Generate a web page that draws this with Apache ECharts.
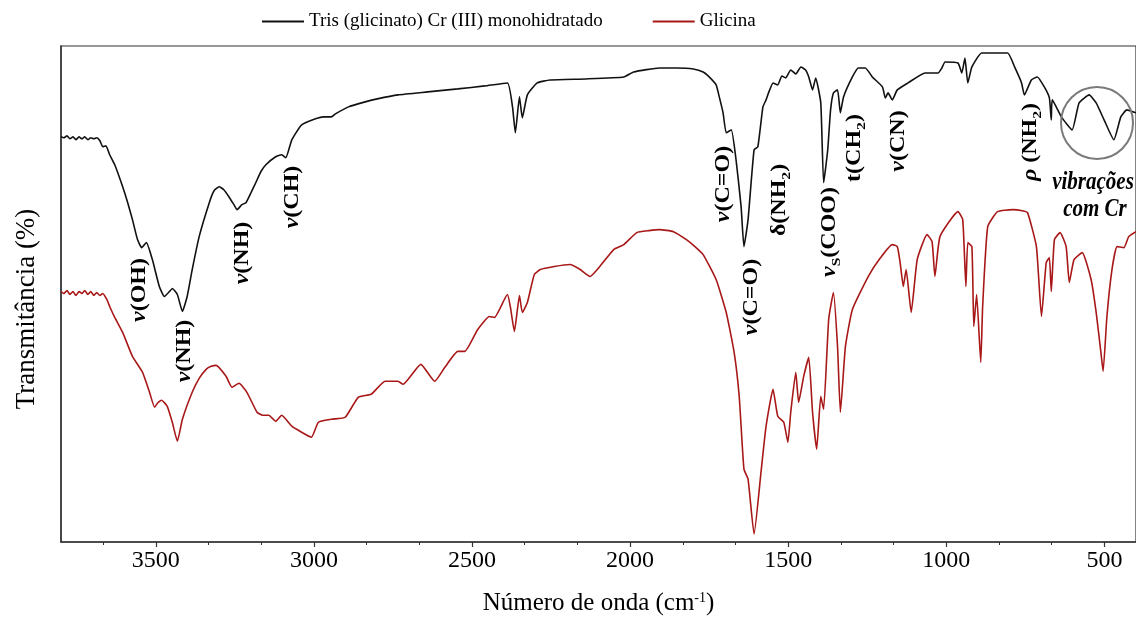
<!DOCTYPE html>
<html>
<head>
<meta charset="utf-8">
<script src="https://cdn.jsdelivr.net/npm/echarts@6/dist/echarts.min.js"></script>
<style>html,body{margin:0;padding:0;background:#fff}#c{width:1136px;height:621px}</style>
</head>
<body>
<div id="c"></div>
<script>
// ---- data ----
const seriesNames = ['Tris (glicinato) Cr (III) monohidratado', 'Glicina'];
const tickValues = [3500, 3000, 2500, 2000, 1500, 1000, 500];

const triWave = [3800,3791,3781,3772,3762,3753,3743,3734,3725,3715,3706,3696,3687,3677,3668,3658,3646,3630,3605,3589,3574,3558,3545,3530,3511,3489,3473,3457,3448,3432,3416,3401,3385,3363,3331,3316,3300,3285,3269,3253,3243,3228,3215,3199,3184,3168,3152,3121,3102,3089,3070,3039,2995,2970,2945,2932,2891,2838,2800,2734,2640,2545,2460,2388,2372,2363,2350,2341,2325,2294,2253,2140,2020,1989,1907,1853,1800,1769,1750,1728,1718,1706,1696,1680,1665,1649,1640,1627,1608,1596,1580,1570,1561,1548,1533,1520,1508,1492,1476,1460,1445,1435,1423,1413,1397,1388,1375,1366,1357,1344,1335,1325,1297,1278,1256,1234,1202,1193,1184,1171,1155,1121,1067,1026,1014,1004,963,951,941,932,919,888,806,784,762,753,731,712,690,674,668,665,636,602,580,548,526,501,470,448,429,400];
const triTrans = [101.5,101.25,101.75,101,101.5,100.75,101.5,101,101.5,100.75,101.25,101,101.25,100.5,99,99.25,97,94.5,89,85,80.75,75.75,73.75,75,70.75,64,61.5,62.75,63.5,62,57.75,61.5,68.25,76.5,85,88,89,88.25,86.5,84.5,83.25,84.5,85,87.5,90,92.75,94.5,96.5,97,96.25,100.75,104.5,106,106.5,106.5,107.25,109,110.25,111,112,112.75,113.5,114.25,115,109,102.5,111.5,106.25,112,115,115.75,116,116.5,117.75,118.75,118.75,118.5,117.75,116.5,114.5,111.5,107.5,102.5,103.25,95.75,84,74,80.75,98.25,99,109,110.75,112.75,115,114.5,116.75,116.25,118.25,117.25,119,118.25,116.5,113.25,116.25,110,90,98.25,108.25,112.5,113.25,107.5,111.5,116.5,118.75,118.75,116.5,114,111.25,112.5,110.75,113.25,115,117.5,117.5,118.75,120.25,120,117.5,121.25,115,119,122.5,122.5,119,115,112,115.75,116.5,114,111.25,105.75,110.75,106.5,103.25,110,112,110,105.75,100.75,106.5,108.25,107.5];

const glyWave = [3800,3791,3781,3772,3762,3753,3743,3734,3725,3715,3706,3696,3687,3677,3668,3655,3646,3630,3605,3574,3542,3520,3504,3495,3482,3464,3448,3432,3416,3385,3363,3341,3325,3309,3278,3259,3237,3212,3180,3162,3143,3121,3102,3070,3039,3008,2986,2945,2901,2860,2819,2775,2734,2718,2662,2618,2586,2545,2523,2482,2445,2429,2388,2379,2366,2350,2341,2325,2303,2284,2240,2190,2158,2127,2096,2052,2020,1979,1940,1907,1863,1822,1795,1769,1728,1696,1671,1655,1640,1627,1608,1586,1570,1548,1533,1514,1501,1492,1476,1467,1451,1435,1423,1410,1397,1388,1372,1357,1344,1335,1319,1297,1247,1210,1171,1155,1146,1136,1127,1111,1092,1061,1045,1036,1020,963,948,938,932,919,913,904,891,885,869,838,790,760,743,715,699,684,674,668,658,640,621,611,596,570,542,526,511,504,492,476,460,438,423,400];
const glyTrans = [62.75,62.25,63,62,62.75,61.75,62.75,62.25,63,62,62.75,61.75,62.5,61.75,62.25,60.75,59,56.25,52.5,46.5,42.5,37.5,33.75,34.75,35.5,34,30,25.25,30.75,37.5,41,43.25,44,44.25,41.5,38.75,39.75,37.5,32.5,31.75,31.75,30.25,31.75,29,27.5,26.25,30,30.75,31.25,36.25,37,40.25,40.25,39.5,44.5,40.25,43.75,47.75,47.75,53.25,56.5,56.25,62,59,52.75,61.75,57.5,60,67,68.25,69,69.5,68.25,66.5,69,73.25,74.5,77.5,78,78.25,77.75,75.75,74,72,65.75,57.5,47.5,36.5,18.25,15.75,2,17.5,29,38.25,31.5,30,25,32.5,42.5,35,41.5,46.25,32.5,23.25,36.5,33.25,55.75,62.5,49,32.5,49,58.25,66.5,71,74.5,74,70,64,68.25,57.5,70.75,77,75.25,66.5,76.5,82.75,80.75,64,75,74,54,62,45,59,79,82.75,83.25,83,82.5,74,56.5,70,71.25,62.75,75.75,77.5,74,65,70.75,72.5,65.75,57.5,47.5,42.75,56.5,68.25,74,73.75,76.5,77.75];

// minor ticks: two between each pair of major ticks (thirds of the 500 cm-1 step)
const minorValues = [];
tickValues.forEach(t => {
  [t + 500 / 3, t + 1000 / 3].forEach(m => { if (m > 400 && m < 3800) minorValues.push(m); });
});

const zip = (a, b) => a.map((x, i) => [x, b[i]]);

const serif = 'Liberation Serif';
const chart = echarts.init(document.getElementById('c'), null, {renderer: 'canvas'});

const subStyle = {fontFamily: serif, fontWeight: 'bold', fontSize: 13, verticalAlign: 'bottom', lineHeight: 26, fill: '#000'};
const mainStyle = {fontFamily: serif, fontWeight: 'bold', fontSize: 20, lineHeight: 26, fill: '#000'};
const nuStyle = {fontFamily: serif, fontWeight: 'bold', fontStyle: 'italic', fontSize: 20, lineHeight: 26, fill: '#000'};
function ann(text, x, y) {
  return {
    type: 'text', x: x, y: y, rotation: Math.PI / 2, scaleX: 1.2, z: 100,
    style: {
      text: text, align: 'center', verticalAlign: 'middle',
      font: 'bold 20px "Liberation Serif"', fill: '#000',
      rich: {m: mainStyle, nu: nuStyle, sub: subStyle}
    }
  };
}

chart.setOption({
  animation: false,
  backgroundColor: '#fff',
  grid: {left: 61, top: 46, right: -6, bottom: 78, show: true, borderColor: '#333', borderWidth: 1.2, backgroundColor: 'transparent'},
  legend: {
    top: 7, left: 257, itemWidth: 42, itemHeight: 2, icon: 'rect', itemGap: 50,
    textStyle: {fontFamily: serif, fontSize: 19, color: '#000'},
    data: seriesNames
  },
  xAxis: [{
    type: 'value', inverse: true, min: 400, max: 3800,
    axisLine: {lineStyle: {color: '#333', width: 1.5}},
    axisTick: {customValues: tickValues, length: 5, lineStyle: {color: '#333', width: 1.2}},
    axisLabel: {customValues: tickValues, formatter: v => String(v), fontFamily: serif, fontSize: 24, color: '#000', margin: 7},
    splitLine: {show: false},
    name: 'Número de onda (cm{sup|-1})', nameLocation: 'middle', nameGap: 49,
    nameTextStyle: {fontFamily: serif, fontSize: 25, color: '#000',
      rich: {sup: {fontFamily: serif, fontSize: 14, verticalAlign: 'top', color: '#000'}}}
  }, {
    type: 'value', inverse: true, min: 400, max: 3800, position: 'bottom', gridIndex: 0,
    axisLine: {show: false},
    axisTick: {customValues: minorValues, length: 3, lineStyle: {color: '#333', width: 1}},
    axisLabel: {show: false},
    splitLine: {show: false}
  }],
  yAxis: {
    type: 'value', min: 0, max: 124.25,
    axisLine: {show: true, lineStyle: {color: '#333', width: 1.5}},
    axisTick: {show: false}, axisLabel: {show: false}, splitLine: {show: false},
    name: 'Transmitância (%)', nameLocation: 'middle', nameGap: 21, nameRotate: 90,
    nameTextStyle: {fontFamily: serif, fontSize: 27, color: '#000', padding: [0, 30, 0, 0]}
  },
  series: [{
    name: seriesNames[0], type: 'line', symbol: 'none', xAxisIndex: 0, smooth: 0.15,
    lineStyle: {color: '#111', width: 1.6}, itemStyle: {color: '#111'},
    data: zip(triWave, triTrans)
  }, {
    name: seriesNames[1], type: 'line', symbol: 'none', xAxisIndex: 0, smooth: 0.15,
    lineStyle: {color: '#a81818', width: 1.6}, itemStyle: {color: '#a81818'},
    data: zip(glyWave, glyTrans)
  }],
  graphic: [
    ann('{nu|ν}{m|(OH)}', 140, 290),
    ann('{nu|ν}{m|(NH)}', 185, 351),
    ann('{nu|ν}{m|(NH)}', 243, 253),
    ann('{nu|ν}{m|(CH)}', 293, 197),
    ann('{nu|ν}{m|(C=O)}', 724, 184),
    ann('{m|δ(NH}{sub|2}{m|)}', 780, 200),
    ann('{nu|ν}{m|(C=O)}', 752, 297),
    ann('{nu|ν}{sub|S}{m|(COO)}', 830, 232),
    ann('{m|t(CH}{sub|2}{m|)}', 855, 148),
    ann('{nu|ν}{m|(CN)}', 899, 141),
    ann('{nu|ρ}{m| (NH}{sub|2}{m|)}', 1031, 142),
    {type: 'circle', shape: {cx: 1097, cy: 123, r: 36}, z: 90, style: {fill: 'none', stroke: '#7a7a7a', lineWidth: 2}},
    {type: 'text', x: 1093, y: 183, scaleY: 1.15, z: 100, style: {text: 'vibrações', align: 'center', verticalAlign: 'middle', font: 'italic bold 21px "Liberation Serif"', fill: '#000'}},
    {type: 'text', x: 1095, y: 210, scaleY: 1.15, z: 100, style: {text: 'com Cr', align: 'center', verticalAlign: 'middle', font: 'italic bold 21px "Liberation Serif"', fill: '#000'}}
  ]
});
</script>
</body>
</html>
